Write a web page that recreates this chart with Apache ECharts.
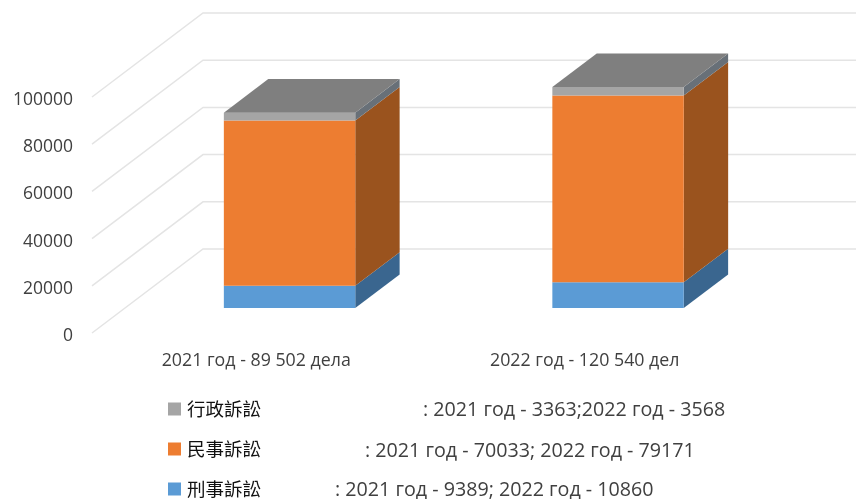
<!DOCTYPE html>
<html><head><meta charset="utf-8">
<style>html,body{margin:0;padding:0;background:#fff}#c{width:856px;height:499px}</style>
<script src="https://cdn.jsdelivr.net/npm/echarts@6/dist/echarts.min.js"></script>
</head><body><div id="c"></div>
<script>
const categories = ['2021 год - 89 502 дела', '2022 год - 120 540 дел'];
const yTicks = [0, 20000, 40000, 60000, 80000, 100000];
const criminal = [9389, 10860];
const civil = [70033, 79171];
const admin = [3363, 3568];
const seriesNames = ['刑事訴訟', '民事訴訟', '行政訴訟'];
const legendNotes = [': 2021 год - 9389; 2022 год - 10860', ': 2021 год - 70033; 2022 год - 79171', ': 2021 год - 3363;2022 год - 3568'];
const stacks = [criminal, civil, admin];
const frontColors = ['#5B9BD5', '#ED7D31', '#A5A5A5'];
const sideColors = ['#3A668F', '#9A531E', '#687078'];
const topColor = '#7F7F7F';

const FLOOR = [111, -84];   // depth of the 3D floor
const BAR_OFFSET = [33.3, -25];
const BAR_DEPTH = 0.4, BAR_WIDTH = 0.4;

function bar3d(level) {
  return function (params, api) {
    const i = api.value(0), v = api.value(1);
    let base = 0;
    for (let k = 0; k < level; k++) base += stacks[k][i];
    const p0 = api.coord([i, base]), p1 = api.coord([i, base + v]);
    const w = api.size([1, 0])[0] * BAR_WIDTH;
    const ox = BAR_OFFSET[0], oy = BAR_OFFSET[1];
    const dx = FLOOR[0] * BAR_DEPTH, dy = FLOOR[1] * BAR_DEPTH;
    const l = p0[0] - w / 2 + ox, r = l + w, yb = p0[1] + oy, yt = p1[1] + oy;
    const kids = [
      { type: 'polygon', shape: { points: [[r, yb], [r + dx, yb + dy], [r + dx, yt + dy], [r, yt]] },
        style: { fill: sideColors[level] } },
      { type: 'polygon', shape: { points: [[l, yb], [r, yb], [r, yt], [l, yt]] },
        style: { fill: frontColors[level] } }
    ];
    if (level === stacks.length - 1) {
      kids.push({ type: 'polygon', shape: { points: [[l, yt], [r, yt], [r + dx, yt + dy], [l + dx, yt + dy]] },
        style: { fill: topColor } });
    }
    return { type: 'group', children: kids };
  };
}

function gridRender(params, api) {
  const y = api.coord([0, api.value(0)])[1];
  const x = params.coordSys.x, w = params.coordSys.width;
  return { type: 'polyline', silent: true,
    shape: { points: [[x, y], [x + FLOOR[0], y + FLOOR[1]], [x + FLOOR[0] + w, y + FLOOR[1]]] },
    style: { fill: 'none', stroke: '#E4E4E4', lineWidth: 1.5 } };
}

const series = [{
  type: 'custom', name: 'grid3d', renderItem: gridRender, clip: false, silent: true,
  data: yTicks.map(t => [t]), encode: { y: 0 }, z: 1
}];
stacks.forEach((vals, level) => {
  series.push({
    type: 'custom', name: seriesNames[level], renderItem: bar3d(level), clip: false,
    itemStyle: { color: frontColors[level] },
    data: vals.map((v, i) => [i, v]), encode: { x: 0, y: 1 }, z: 2 + level
  });
});

const noteX = [335, 365, 423], noteY = [489, 450, 409];
const chart = echarts.init(document.getElementById('c'), null, { renderer: 'canvas' });
chart.setOption({
  animation: false,
  backgroundColor: '#fff',
  grid: { left: 92, top: 97, width: 657, height: 236, containLabel: false },
  xAxis: { type: 'category', data: categories,
    axisLine: { show: false }, axisTick: { show: false }, splitLine: { show: false },
    axisLabel: { margin: 19, fontFamily: 'Open Sans', fontSize: 17.8, color: '#404040' } },
  yAxis: { type: 'value', min: 0, max: 100000, interval: 20000,
    axisLine: { show: false }, axisTick: { show: false }, splitLine: { show: false },
    axisLabel: { margin: 19, formatter: v => '{a|' + v + '}',
      rich: { a: { fontFamily: 'Open Sans', fontSize: 17.5, color: '#404040', padding: [6, 0, 0, 0] } } } },
  legend: { orient: 'vertical', left: 168, top: 399, padding: 0, itemGap: 20, itemWidth: 13, itemHeight: 13,
    icon: 'rect', selectedMode: false, data: seriesNames.slice().reverse(),
    textStyle: { fontFamily: 'Noto Sans CJK TC', fontSize: 18.5, lineHeight: 18, color: '#111', padding: [0, 0, 2, 1] } },
  graphic: legendNotes.map((t, i) => ({
    type: 'text', left: noteX[i], top: noteY[i] - 9,
    style: { text: t, fontFamily: 'Open Sans', fontSize: 19.7, fill: '#404040' }
  })),
  series
});
</script></body></html>
